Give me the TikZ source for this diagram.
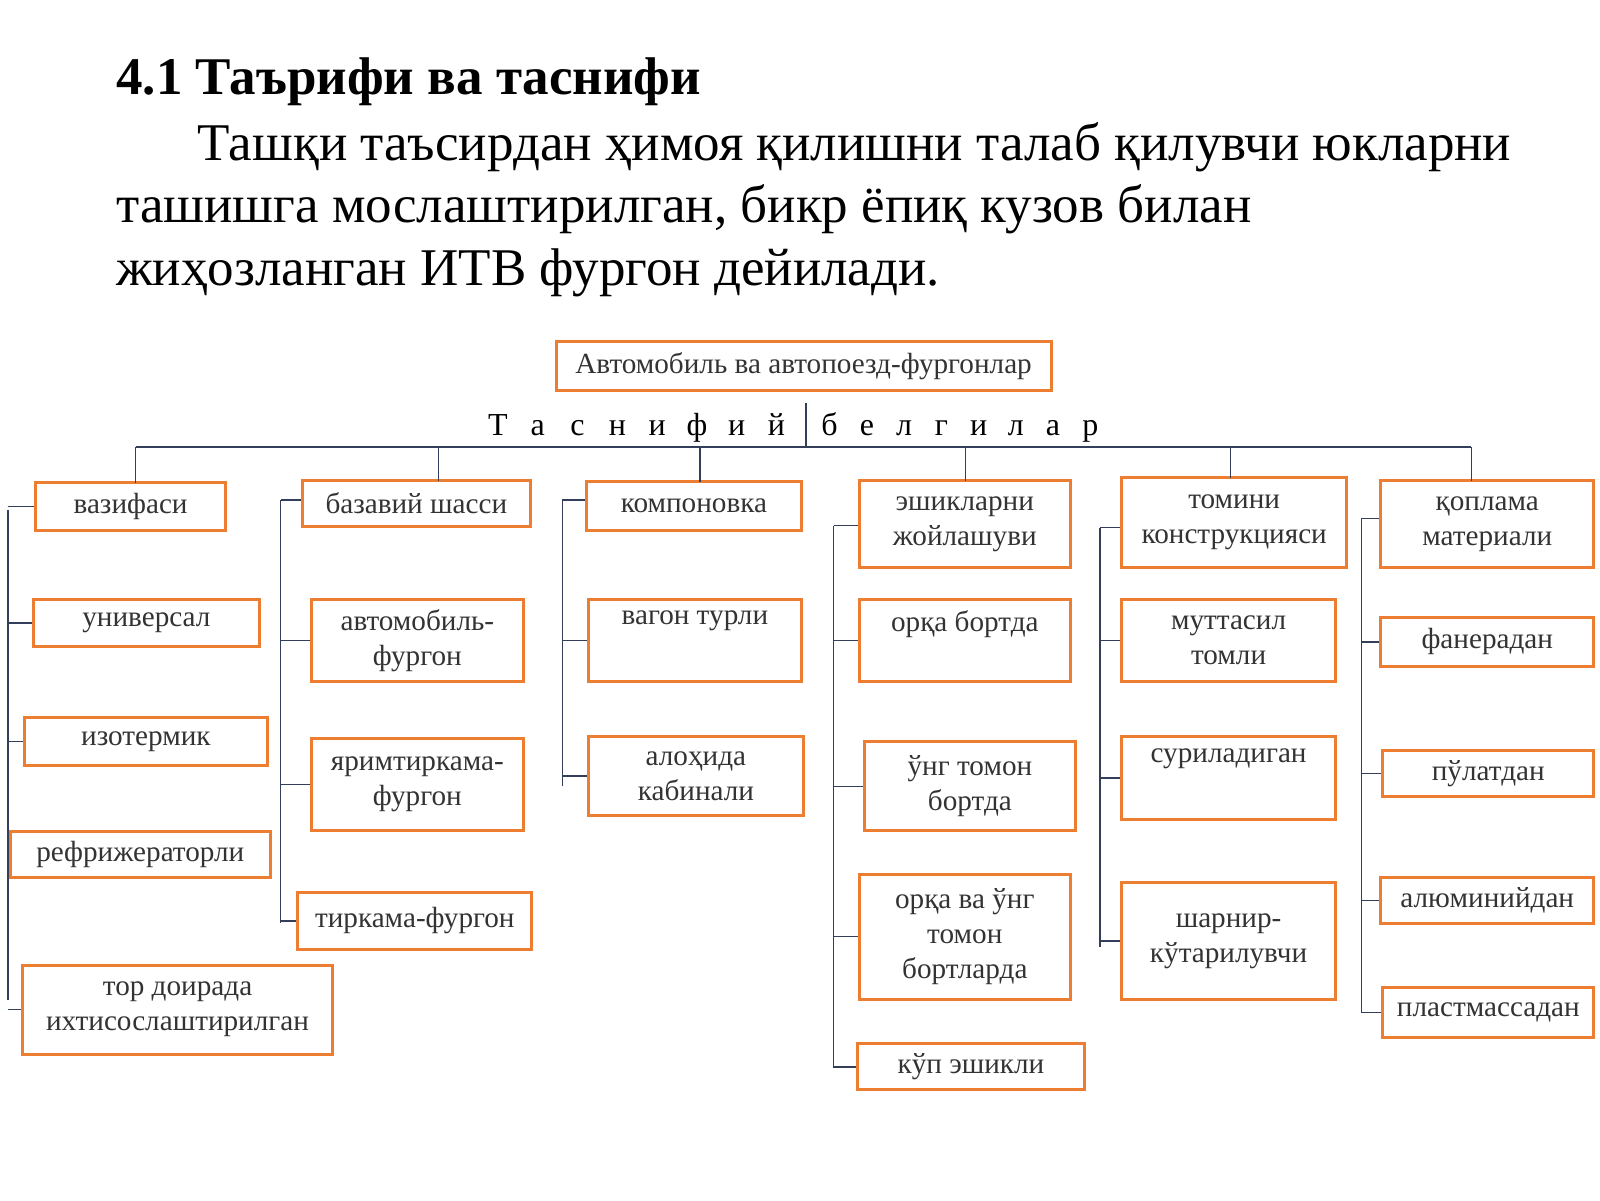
\documentclass[tikz,border=0pt]{standalone}
\usepackage{fontspec}
\setmainfont{Liberation Serif}
\begin{document}
\begin{tikzpicture}[x=0.5102pt,y=-0.5102pt,
  bx/.style={draw=boxor,line width=1.5pt,rectangle,inner sep=1pt,align=center,font=\fontsize{14.6}{17.5}\selectfont,text=black!80},
  ln/.style={draw=lncol,line width=0.7pt}]
\definecolor{boxor}{RGB}{237,125,49}
\definecolor{lncol}{RGB}{50,62,90}
\useasboundingbox (0,0) rectangle (1568,1176);
\newcommand\bx[6]{\node[bx,minimum width={(#4-#2)*0.5102pt},minimum height={(#5-#3)*0.5102pt}] (#1) at ({(#2+#4)/2},{(#3+#5)/2}) {#6};}
\newcommand\bxt[6]{\node[bx,minimum width={(#4-#2)*0.5102pt},minimum height={(#5-#3)*0.5102pt},label={[anchor=north,font=\fontsize{14.6}{17.5}\selectfont,text=black!80,yshift=-3pt]north:#6}] (#1) at ({(#2+#4)/2},{(#3+#5)/2}) {};}
% title and paragraph
\node[anchor=base west,font=\fontsize{26.5}{32}\selectfont\bfseries] (title) at (107,93) {4.1 Таърифи ва таснифи};
\node[anchor=base west,font=\fontsize{26.5}{32}\selectfont] (p1) at (187,157) {Ташқи таъсирдан ҳимоя қилишни талаб қилувчи юкларни};
\node[anchor=base west,font=\fontsize{26.5}{32}\selectfont] (p2) at (107,218) {ташишга мослаштирилган, бикр ёпиқ кузов билан};
\node[anchor=base west,font=\fontsize{26.5}{32}\selectfont] (p3) at (107,280) {жиҳозланган ИТВ фургон дейилади.};
% top
\bx{top}{545}{335}{1030}{383}{Автомобиль ва автопоезд-фургонлар}
\foreach \c [count=\i from 0] in {Т,а,с,н,и,ф,и,й}
  \node[font=\fontsize{16}{18}\selectfont,anchor=base] (ta\i) at (488+\i*39,427) {\c};
\foreach \c [count=\i from 0] in {б,е,л,г,и,л,а,р}
  \node[font=\fontsize{16}{18}\selectfont,anchor=base] (be\i) at (813+\i*36.5,427) {\c};
\coordinate (vt) at (790,395); \coordinate (vb) at (790,438);
\draw[ln] (vt) -- (vb);
\coordinate (busL) at (133,438); \coordinate (busR) at (1442,438);
\draw[ln] (busL) -- (busR);
% column 1
\bx{a1}{35}{473}{221}{520}{вазифаси}
\bx{a2}{33}{587}{254}{634}{универсал}
\bx{a3}{24}{703}{262}{750}{изотермик}
\bx{a4}{10}{815}{265}{860}{рефрижераторли}
\bx{a5}{22}{946}{326}{1033}{тор доирада\\ихтисослаштирилган}
% column 2
\bx{b1}{296}{471}{520}{516}{базавий шасси}
\bx{b2}{305}{587}{513}{668}{автомобиль-\\фургон}
\bx{b3}{305}{724}{513}{814}{яримтиркама-\\фургон}
\bx{b4}{292}{875}{521}{930}{тиркама-фургон}
% column 3
\bx{c1}{575}{472}{785}{520}{компоновка}
\bxt{c2}{577}{587}{785}{668}{вагон турли}
\bx{c3}{577}{722}{787}{799}{алоҳида\\кабинали}
% column 4
\bx{d1}{842}{471}{1049}{556}{эшикларни\\жойлашуви}
\bxt{d2}{842}{587}{1049}{668}{орқа бортда}
\bx{d3}{847}{727}{1054}{814}{ўнг томон\\бортда}
\bx{d4}{842}{857}{1049}{979}{орқа ва ўнг\\томон\\бортларда}
\bx{d5}{840}{1023}{1063}{1068}{кўп эшикли}
% column 5
\bx{e1}{1099}{468}{1320}{556}{томини\\конструкцияси}
\bx{e2}{1099}{587}{1309}{668}{муттасил\\томли}
\bxt{e3}{1099}{722}{1309}{803}{суриладиган}
\bx{e4}{1099}{865}{1309}{979}{шарнир-\\кўтарилувчи}
% column 6
\bx{f1}{1353}{471}{1562}{556}{қоплама\\материали}
\bx{f2}{1353}{605}{1562}{653}{фанерадан}
\bx{f3}{1355}{735}{1562}{781}{пўлатдан}
\bx{f4}{1353}{860}{1562}{905}{алюминийдан}
\bx{f5}{1355}{968}{1562}{1017}{пластмассадан}
% drops from bus
\draw[ln] (133,438) -- (133,473);
\draw[ln] (430,438) -- (430,471);
\draw[ln] (686,438) -- (686,472);
\draw[ln] (946,438) -- (946,471);
\draw[ln] (1206,438) -- (1206,468);
\draw[ln] (1442,438) -- (1442,471);
% spines and ticks
\coordinate (sa) at (8,500);  \draw[ln] (sa) -- (8,980);
\foreach \n in {a1,a2,a3,a4,a5} \draw[ln] (\n.west -| sa) -- (\n.west);
\coordinate (sb) at (275,490); \draw[ln] (sb) -- (275,905);
\draw[ln] (sb) -- (b1.west |- sb);
\foreach \n in {b2,b3,b4} \draw[ln] (\n.west -| sb) -- (\n.west);
\coordinate (sc) at (551,490); \draw[ln] (sc) -- (551,770);
\draw[ln] (sc) -- (c1.west |- sc);
\foreach \n in {c2,c3} \draw[ln] (\n.west -| sc) -- (\n.west);
\coordinate (sd) at (817,515); \draw[ln] (sd) -- (817,1047);
\draw[ln] (sd) -- (d1.west |- sd);
\foreach \n in {d2,d3,d4,d5} \draw[ln] (\n.west -| sd) -- (\n.west);
\coordinate (se) at (1078,517); \draw[ln] (se) -- (1078,928);
\draw[ln] (se) -- (e1.west |- se);
\foreach \n in {e2,e3,e4} \draw[ln] (\n.west -| se) -- (\n.west);
\coordinate (sf) at (1334,508); \draw[ln] (sf) -- (1334,993);
\draw[ln] (sf) -- (f1.west |- sf);
\foreach \n in {f2,f3,f4,f5} \draw[ln] (\n.west -| sf) -- (\n.west);
\end{tikzpicture}
\end{document}
